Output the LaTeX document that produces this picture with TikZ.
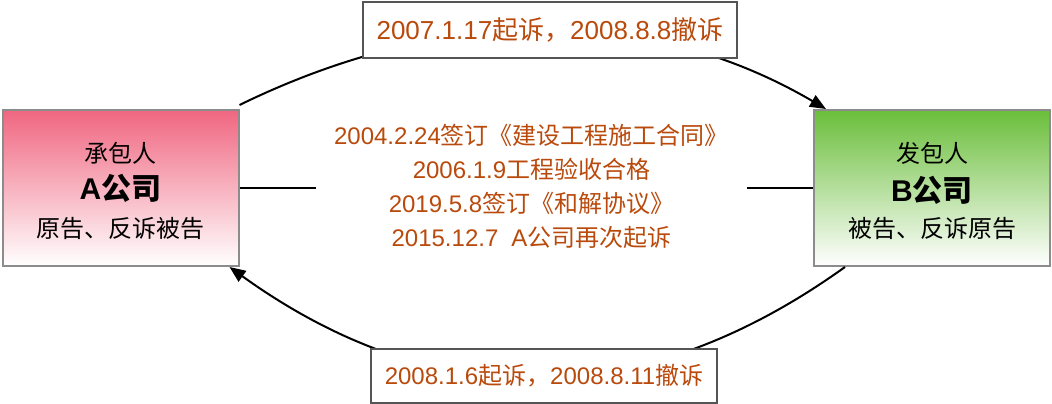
\documentclass[tikz,border=0pt]{standalone}
\usepackage{fontspec}
\setmainfont{Noto Sans CJK SC}
\newfontfamily\latf{Liberation Sans}
\newcommand\dg[1]{{\latf #1}}
\usetikzlibrary{arrows.meta,calc}
\definecolor{txtor}{RGB}{185,74,12}
\definecolor{pinktop}{RGB}{240,102,128}
\definecolor{greentop}{RGB}{106,190,58}
\definecolor{boxgray}{RGB}{140,140,140}
\definecolor{lblgray}{RGB}{85,85,85}
\begin{document}
\begin{tikzpicture}[x=1pt,y=-1pt,
  party/.style={draw=boxgray, line width=2pt, minimum width=236pt, minimum height=156pt, inner sep=0pt},
  lbl/.style={draw=lblgray, fill=white, line width=2pt, text=txtor, inner sep=0pt},
  conn/.style={line width=2pt, -{Triangle[length=16pt,width=13pt]}},
  plainline/.style={line width=2pt},
  role/.style={font=\fontsize{24}{28}\selectfont, inner sep=0pt},
  firm/.style={font=\fontsize{30}{34}\selectfont\bfseries, inner sep=0pt}]
\useasboundingbox (0,0) rectangle (1052,404);
% party boxes
\node[party, top color=pinktop, bottom color=white] (A) at (120.5,188) {};
\node[party, top color=greentop, bottom color=white] (B) at (932,188) {};
\node[role] (a1) at ($(A.center)+(0,-35)$) {承包人};
\node[firm] (a2) at ($(A.center)+(0,0)$) {\dg{A}公司};
\node[role] (a3) at ($(A.center)+(0,40)$) {原告、反诉被告};
\node[role] (b1) at ($(B.center)+(0,-35)$) {发包人};
\node[firm] (b2) at ($(B.center)+(0,2)$) {\dg{B}公司};
\node[role] (b3) at ($(B.center)+(0,40)$) {被告、反诉原告};
% middle text
\node[text=txtor, align=center, minimum width=431pt, inner sep=0pt,
      font=\fontsize{24}{34}\selectfont] (mid) at (531.5,186.5)
  {\dg{2004.2.24}签订《建设工程施工合同》\\
   \dg{2006.1.9}工程验收合格\\
   \dg{2019.5.8}签订《和解协议》\\
   \dg{2015.12.7}\hspace{13pt}\dg{A}公司再次起诉};
\draw[plainline] (A.east) -- (A.east -| mid.west);
\draw[plainline] (B.west) -- (B.west -| mid.east);
% curved connectors
\draw[conn] ($(A.north east)+(0,-4)$) .. controls (434,10) and (640,0) .. ($(B.north west)+(13,0)$);
\draw[conn] ($(B.south west)+(32,0)$) .. controls (640,414) and (434,414) .. ($(A.south east)+(-10,0)$);
% labels on connectors
\node[lbl, minimum width=374pt, minimum height=56pt, font=\fontsize{26}{30}\selectfont] (t) at (550,30)
  {\dg{2007.1.17}起诉，\dg{2008.8.8}撤诉};
\node[lbl, minimum width=346pt, minimum height=54pt, font=\fontsize{24}{28}\selectfont] (u) at (544,376)
  {\dg{2008.1.6}起诉，\dg{2008.8.11}撤诉};
\end{tikzpicture}
\end{document}
